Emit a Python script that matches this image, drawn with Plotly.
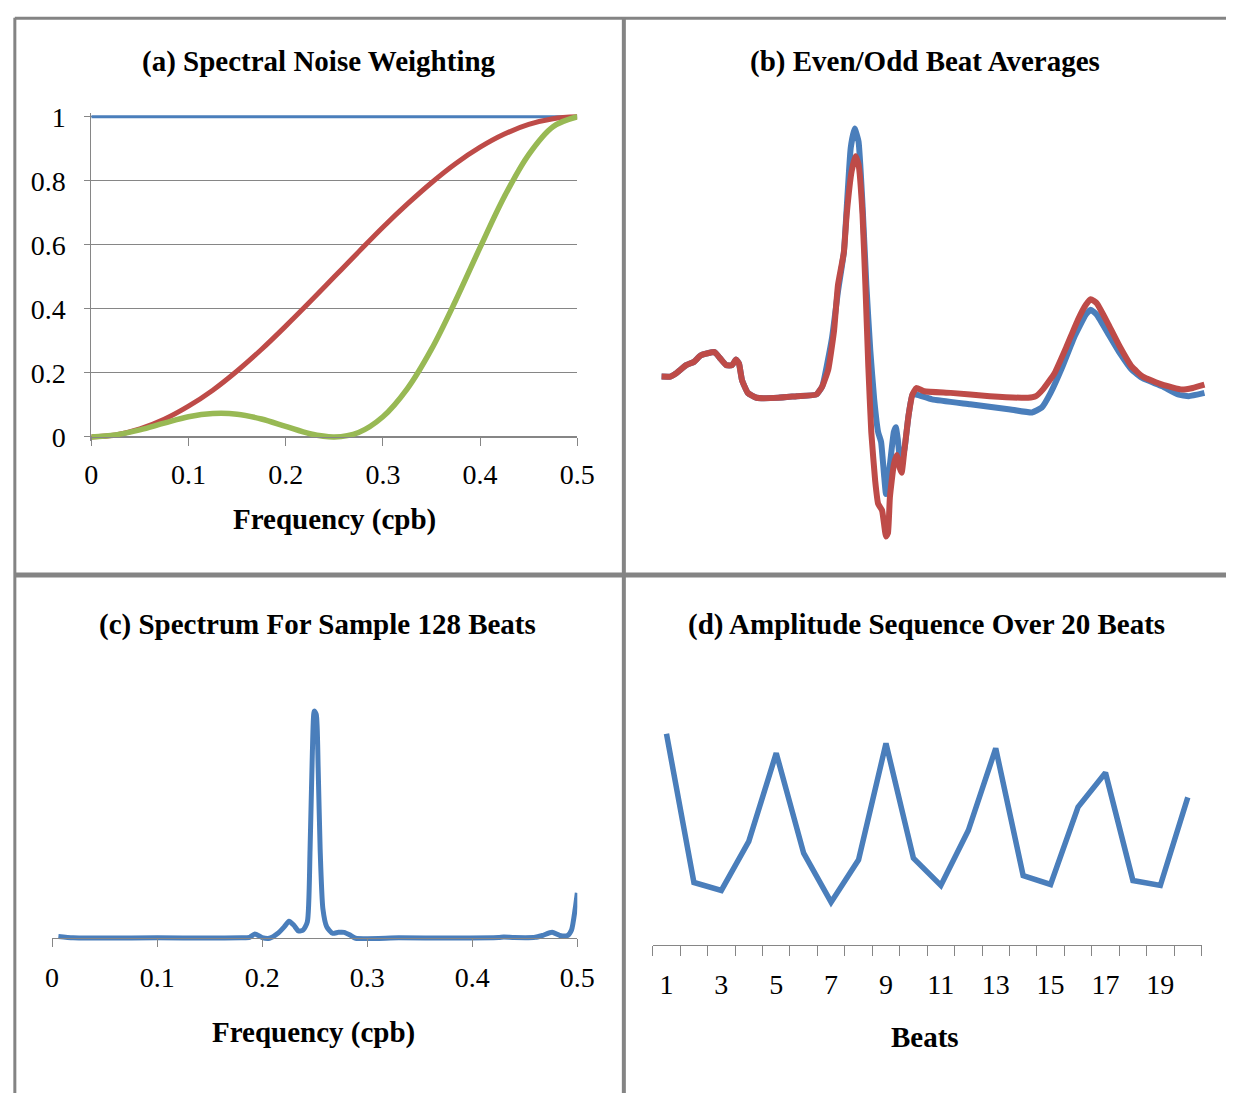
import plotly.graph_objects as go

W, H = 1244, 1105
SERIF = "Liberation Serif, Times New Roman, serif"
GRAY = "#868686"
BLUE = "#4A7EBB"
RED = "#BE4B48"
GREEN = "#98B954"

# ---------------- (a) Spectral noise weighting ----------------
freq_a = [0.0, 0.025, 0.05, 0.075, 0.1, 0.125, 0.15, 0.175, 0.2, 0.225, 0.25,
          0.275, 0.3, 0.325, 0.35, 0.375, 0.4, 0.425, 0.45, 0.475, 0.5]
weight_flat = [1.0] * 21
weight_red = [0.0, 0.006, 0.025, 0.055, 0.096, 0.146, 0.206, 0.273, 0.346, 0.422, 0.5,
              0.578, 0.655, 0.727, 0.794, 0.854, 0.905, 0.946, 0.976, 0.994, 1.0]
weight_green = [0.0, 0.006, 0.022, 0.043, 0.063, 0.073, 0.071, 0.056, 0.033, 0.010, 0.0,
                0.014, 0.063, 0.150, 0.274, 0.427, 0.592, 0.751, 0.882, 0.969, 1.0]
ticks_a_x = [0, 0.1, 0.2, 0.3, 0.4, 0.5]
ticks_a_y = [0, 0.2, 0.4, 0.6, 0.8, 1]

# ---------------- (b) Even/odd beat averages ----------------
t_even = [0, 9, 15, 25, 33, 40, 54, 60, 66, 72, 76, 79, 82, 88, 97, 119, 138, 158, 164,
          170, 176, 180, 186, 189, 194, 198, 201, 205, 208, 211, 214, 218, 221, 225, 229,
          231, 233, 237, 240, 243, 245, 248, 252, 256, 260, 268, 295, 335, 374, 382, 389,
          401, 413, 425, 433, 438, 444, 456, 468, 480, 491, 511, 531, 542, 554]
amp_even = [0.12, 0.12, 0.13, 0.155, 0.165, 0.185, 0.195, 0.175, 0.155, 0.155, 0.172, 0.16,
            0.11, 0.07, 0.055, 0.055, 0.06, 0.065, 0.09, 0.14, 0.26, 0.40, 0.50, 0.62, 0.75,
            0.795, 0.77, 0.62, 0.40, 0.15, -0.05, -0.20, -0.27, -0.29, -0.37, -0.36, -0.25,
            -0.15, -0.12, -0.16, -0.175, -0.10, 0.0, 0.065, 0.085, 0.075, 0.07, 0.06, 0.055,
            0.06, 0.08, 0.13, 0.21, 0.295, 0.34, 0.357, 0.345, 0.28, 0.21, 0.15, 0.12, 0.095,
            0.08, 0.085, 0.095]
t_odd = [0, 9, 15, 25, 33, 40, 54, 60, 66, 72, 76, 79, 82, 88, 97, 119, 138, 158, 164,
         174, 180, 186, 189, 193, 197, 201, 205, 209, 213, 217, 221, 224, 227, 229, 233,
         237, 239, 241, 244, 248, 252, 256, 260, 276, 315, 354, 378, 388, 397, 409, 421,
         433, 438, 444, 456, 468, 480, 491, 511, 527, 538, 554]
amp_odd = [0.12, 0.12, 0.13, 0.155, 0.165, 0.185, 0.195, 0.175, 0.155, 0.155, 0.172, 0.16,
           0.11, 0.07, 0.055, 0.055, 0.06, 0.065, 0.09, 0.24, 0.38, 0.50, 0.64, 0.82, 0.88,
           0.84, 0.65, 0.40, 0.20, 0.05, -0.05, -0.08, -0.18, -0.24, -0.15, -0.05, -0.035,
           -0.07, -0.15, -0.10, 0.0, 0.065, 0.065, 0.05, 0.035, 0.02, 0.01, 0.025, 0.07,
           0.15, 0.24, 0.31, 0.325, 0.31, 0.25, 0.19, 0.14, 0.115, 0.09, 0.065, 0.06, 0.07]

# ---------------- (c) Spectrum for sample 128 beats ----------------
freq_c = [0.006, 0.02, 0.05, 0.1, 0.15, 0.18, 0.188, 0.193, 0.2, 0.207, 0.215, 0.221,
          0.2256, 0.23, 0.2345, 0.239, 0.243, 0.2456, 0.2478, 0.2496, 0.2515, 0.2533,
          0.2552, 0.2578, 0.2615, 0.267, 0.2726, 0.278, 0.2837, 0.289, 0.33, 0.38, 0.425,
          0.43, 0.44, 0.46, 0.4667, 0.476, 0.4834, 0.4908, 0.4945, 0.498, 0.5]
power_c = [0.008, 0.002, 0.001, 0.002, 0.001, 0.002, 0.004, 0.019, 0.003, 0.0, 0.022,
           0.05, 0.075, 0.058, 0.032, 0.036, 0.072, 0.39, 0.82, 1.0, 0.985, 0.75, 0.39,
           0.13, 0.05, 0.022, 0.026, 0.026, 0.014, 0.0, 0.002, 0.001, 0.003, 0.006, 0.003,
           0.004, 0.012, 0.026, 0.012, 0.012, 0.036, 0.13, 0.2]
ticks_c_x = [0, 0.1, 0.2, 0.3, 0.4, 0.5]

# ---------------- (d) Amplitude sequence over 20 beats ----------------
beats = list(range(1, 21))
amplitude_d = [0.85, 0.252, 0.22, 0.417, 0.772, 0.37, 0.173, 0.343, 0.811, 0.35,
               0.24, 0.461, 0.791, 0.28, 0.244, 0.555, 0.693, 0.26, 0.24, 0.594]
beat_labels = [1, 3, 5, 7, 9, 11, 13, 15, 17, 19]
beat_bounds = [b + 0.5 for b in range(0, 21)]


def px(x):
    return x / W


def py(y):
    return 1 - y / H


fig = go.Figure()

fig.add_trace(go.Scatter(x=freq_a, y=weight_flat, mode="lines", line=dict(color=BLUE, width=3),
                         xaxis="x", yaxis="y", showlegend=False))
fig.add_trace(go.Scatter(x=freq_a, y=weight_red, mode="lines", line=dict(color=RED, width=5, shape="spline"),
                         xaxis="x", yaxis="y", showlegend=False))
fig.add_trace(go.Scatter(x=freq_a, y=weight_green, mode="lines", line=dict(color=GREEN, width=5.5, shape="spline"),
                         xaxis="x", yaxis="y", showlegend=False))

fig.add_trace(go.Scatter(x=t_odd, y=amp_odd, mode="lines",
                         line=dict(color=BLUE, width=6, shape="spline", smoothing=0.4),
                         xaxis="x2", yaxis="y2", showlegend=False))
fig.add_trace(go.Scatter(x=t_even, y=amp_even, mode="lines",
                         line=dict(color=RED, width=6, shape="spline", smoothing=0.4),
                         xaxis="x2", yaxis="y2", showlegend=False))

fig.add_trace(go.Scatter(x=freq_c, y=power_c, mode="lines",
                         line=dict(color=BLUE, width=5, shape="spline", smoothing=0.6),
                         xaxis="x3", yaxis="y3", showlegend=False))

fig.add_trace(go.Scatter(x=beats, y=amplitude_d, mode="lines", line=dict(color=BLUE, width=5.5),
                         xaxis="x4", yaxis="y4", showlegend=False))

tickfont = dict(family=SERIF, size=28, color="black")

fig.update_layout(
    autosize=True,
    margin=dict(l=0, r=0, t=0, b=0, pad=0),
    paper_bgcolor="white", plot_bgcolor="rgba(0,0,0,0)",
    xaxis=dict(domain=[px(86), px(582)], range=[0, 0.5], tickvals=ticks_a_x,
               ticktext=["0", "0.1", "0.2", "0.3", "0.4", "0.5"],
               ticks="outside", ticklen=8, tickcolor=GRAY, showline=True, linecolor=GRAY,
               linewidth=1, showgrid=False, zeroline=False, anchor="free", position=py(435),
               tickfont=tickfont, ticklabelstandoff=4, fixedrange=True),
    yaxis=dict(domain=[py(438.9), py(104.1)], range=[-0.012, 1.012], tickvals=ticks_a_y,
               ticktext=["0", "0.2", "0.4", "0.6", "0.8", "1"],
               ticks="outside", ticklen=6, tickcolor=GRAY, showline=True, linecolor=GRAY,
               showgrid=True, gridcolor=GRAY, gridwidth=1, zeroline=False, anchor="x",
               tickfont=tickfont, ticklabelstandoff=13, fixedrange=True),
    xaxis2=dict(domain=[px(664), px(1226)], range=[-4, 558], visible=False, anchor="y2"),
    yaxis2=dict(domain=[py(563.3), py(96.7)], range=[-0.45, 0.95], visible=False, anchor="x2"),
    xaxis3=dict(domain=[px(46), px(582)], range=[0, 0.5], tickvals=ticks_c_x,
                ticktext=["0", "0.1", "0.2", "0.3", "0.4", "0.5"],
                ticks="outside", ticklen=8, tickcolor=GRAY, showline=True, linecolor=GRAY,
                showgrid=False, zeroline=False, anchor="free", position=py(947),
                tickfont=tickfont, ticklabelstandoff=6),
    yaxis3=dict(domain=[py(951.6), py(699.9)], range=[-0.02, 1.065], visible=False, anchor="x3"),
    xaxis4=dict(domain=[px(659), px(1219)], range=[0.5, 20.5], tickvals=beat_labels,
                ticktext=[str(b) for b in beat_labels], ticks="",
                minor=dict(tickvals=beat_bounds, ticks="outside", ticklen=10, tickcolor=GRAY,
                           showgrid=False),
                showline=True, linecolor=GRAY, showgrid=False, zeroline=False,
                anchor="free", position=py(954), tickfont=tickfont, ticklabelstandoff=14),
    yaxis4=dict(domain=[py(959.1), py(700)], range=[-0.02, 1.0], visible=False, anchor="x4"),
)

titlefont = dict(family=SERIF, size=29, color="black", weight="bold")
annots = [
    ("(a) Spectral Noise Weighting", 318, 52),
    ("(b) Even/Odd Beat Averages", 937, 52),
    ("(c) Spectrum For Sample 128 Beats", 317, 627),
    ("(d) Amplitude Sequence Over 20 Beats", 938, 627),
    ("Frequency (cpb)", 334, 519),
    ("Frequency (cpb)", 313, 1043),
    ("Beats", 937, 1048),
]
for text, x, y in annots:
    fig.add_annotation(text=text, x=px(x), y=py(y), xref="paper", yref="paper",
                       xanchor="center", yanchor="middle", showarrow=False, font=titlefont)

BORDER = "#848484"
shapes = [
    dict(x0=px(8), x1=1, y0=py(7.5), y1=py(7.5), w=3),
    dict(x0=px(8), x1=px(8), y0=py(7), y1=0, w=3),
    dict(x0=px(629.5), x1=px(629.5), y0=py(7), y1=0, w=4),
    dict(x0=px(8), x1=1, y0=py(576), y1=py(576), w=5),
]
for s in shapes:
    fig.add_shape(type="line", xref="paper", yref="paper", x0=s["x0"], x1=s["x1"],
                  y0=s["y0"], y1=s["y1"], line=dict(color=BORDER, width=s["w"]))

fig.write_html(
    "out.html",
    config={"displayModeBar": False, "responsive": True},
    default_width="100vw",
    default_height="100vh",
    post_script="document.documentElement.style.margin='0';"
                "document.documentElement.style.overflow='hidden';"
                "document.body.style.margin='0';document.body.style.padding='0';"
                "document.body.style.overflow='hidden';",
)
